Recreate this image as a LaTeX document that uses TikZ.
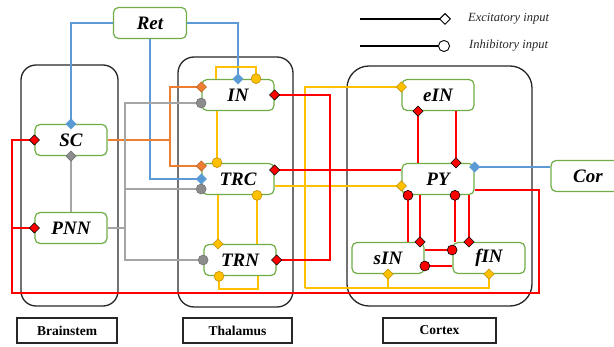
\documentclass[tikz,border=0pt]{standalone}
\usepackage{fontspec}
\setmainfont{Liberation Serif}
\usetikzlibrary{arrows.meta, calc}

\definecolor{popgreen}{RGB}{112,173,71}
\definecolor{cblue}{RGB}{91,155,213}
\definecolor{corange}{RGB}{237,125,49}
\definecolor{cgray}{RGB}{165,165,165}
\definecolor{cyellow}{RGB}{255,192,0}
\definecolor{cgold}{RGB}{191,144,0}
\definecolor{cred}{RGB}{255,0,0}

\tikzset{
  pop/.style={draw=popgreen, line width=1.2pt, rounded corners=5pt, fill=white,
    minimum width=72pt, minimum height=31pt, inner sep=0pt,
    font=\bfseries\itshape\fontsize{19}{20}\selectfont},
  region/.style={draw=black!85, line width=1.3pt},
  tag/.style={draw=black!85, line width=1.1pt, minimum height=25pt, inner sep=0pt,
    font=\bfseries\fontsize{13.5}{15}\selectfont},
  wire/.style={line width=1.3pt},
  exc/.style 2 args={shorten >=-5.5pt,
    -{Diamond[length=11pt,width=11pt,line width=0.6pt,color=#2,fill=#1]}},
  inh/.style 2 args={shorten >=-5pt,
    -{Circle[length=10.5pt,line width=0.6pt,color=#2,fill=#1]}},
}

\begin{document}
\begin{tikzpicture}[x=1pt, y=-1pt]
        \useasboundingbox (0,0) rectangle (614,347);
        \clip (0,0) rectangle (614,347);

        % Regions
        \draw[region, rounded corners=15pt] (21,65) rectangle (118,306);
        \draw[region, rounded corners=16pt] (178,57) rectangle (293,307);
        \draw[region, rounded corners=22pt] (347,66) rectangle (532,306);
        \node[tag, minimum width=100pt] (brainstem) at (67,330.5) {Brainstem};
        \node[tag, minimum width=109pt] (thalamus) at (237.5,330.5) {Thalamus};
        \node[tag, minimum width=113pt] (cortex) at (439.5,330.5) {Cortex};

        % Populations
        \node[pop, minimum width=73pt] (ret) at (150,23) {Ret};
        \node[pop] (sc) at (71,140) {SC};
        \node[pop] (pnn) at (71,228) {PNN};
        \node[pop] (in) at (238,95) {IN};
        \node[pop] (trc) at (238,179) {TRC};
        \node[pop] (trn) at (240,260) {TRN};
        \node[pop] (ein) at (438,95) {eIN};
        \node[pop] (py) at (438,179) {PY};
        \node[pop, minimum width=74pt] (cor) at (588,176) {Cor};
        \node[pop] (sin) at (388,258) {sIN};
        \node[pop] (fin) at (489,258) {fIN};

        % Ret
        \draw[wire, cblue, exc={cblue}{cblue}] (ret.west) -| (sc.north);
        \draw[wire, cblue, exc={cblue}{cblue}] (ret.east) -| (in.north);
        \draw[wire, cblue, exc={cblue}{cblue}] (ret.south) |- (trc.west);

        % SC
        \coordinate (scj) at (170,140);
        \draw[wire, corange] (sc.east) -- (scj);
        \draw[wire, corange, exc={corange}{corange!80!black}] (scj) |- ($(in.west)+(0,-8)$);
        \draw[wire, corange, exc={corange}{corange!80!black}] (scj) |- ($(trc.west)+(0,-13)$);

        % PNN
        \draw[wire, cgray, exc={cgray!85!black}{cgray!70!black}] (pnn.north) -- (sc.south);
        \coordinate (pnnj) at (125,228);
        \draw[wire, cgray] (pnn.east) -- (pnnj);
        \draw[wire, cgray, inh={cgray!85!black}{cgray!70!black}] (pnnj) |- ($(in.west)+(0,8)$);
        \draw[wire, cgray, inh={cgray!85!black}{cgray!70!black}] (pnnj) |- ($(trc.west)+(0,10)$);
        \draw[wire, cgray, inh={cgray!85!black}{cgray!70!black}] (pnnj) |- (trn.west);

        % Thalamus
        \draw[wire, cyellow, inh={cyellow}{cgold}] ($(in.north)+(-22,0)$) -- ++(0,-12) -| ($(in.north)+(18,0)$);
        \draw[wire, cyellow, inh={cyellow}{cgold}] ($(in.south)+(-21,0)$) -- ($(trc.north)+(-21,0)$);
        \draw[wire, cyellow, exc={cyellow}{cgold}] ($(trc.south)+(-20,0)$) -- ($(trn.north)+(-22,0)$);
        \draw[wire, cyellow, inh={cyellow}{cgold}] ($(trn.north)+(17,0)$) -- ($(trc.south)+(19,0)$);
        \draw[wire, cyellow, inh={cyellow}{cgold}] ($(trn.south)+(18,0)$) -- ++(0,13) -| ($(trn.south)+(-21,0)$);

        % TRC to cortex
        \coordinate (trcj) at (305,186);
        \coordinate (trcb) at (305,288);
        \draw[wire, cyellow, exc={cyellow}{cgold}] ($(trc.east)+(0,7)$) -- ($(py.west)+(0,7)$);
        \draw[wire, cyellow, exc={cyellow}{cgold}] (trcj) |- ($(ein.west)+(0,-8)$);
        \draw[wire, cyellow] (trcj) -- (trcb);
        \draw[wire, cyellow, exc={cyellow}{cgold}] (trcb) -| (sin.south);
        \draw[wire, cyellow, exc={cyellow}{cgold}] (trcb) -| (fin.south);

        % PY to thalamus and brainstem
        \coordinate (pyj) at (330,170);
        \draw[wire, cred, exc={cred}{black}] ($(py.west)+(0,-9)$) -- ($(trc.east)+(0,-9)$);
        \draw[wire, cred, exc={cred}{black}] (pyj) |- (in.east);
        \draw[wire, cred, exc={cred}{black}] (pyj) |- (trn.east);
        \coordinate (pyr) at (539,293);
        \coordinate (pyl) at (12,293);
        \draw[wire, cred, exc={cred}{black}] ($(py.east)+(0,11)$) -| (pyr) -- (pyl) |- (sc.west);
        \draw[wire, cred, exc={cred}{black}] (pyl) |- (pnn.west);

        % Cortex
        \draw[wire, cred, exc={cred}{black}] ($(py.north)+(-20,0)$) -- ($(ein.south)+(-20,0)$);
        \draw[wire, cred, exc={cred}{black}] ($(ein.south)+(18,0)$) -- ($(py.north)+(18,0)$);
        \draw[wire, cblue, exc={cblue}{cblue}] ($(cor.west)+(0,-9)$) -- ($(py.east)+(0,-12)$);
        \draw[wire, cred, inh={cred}{black}] ($(sin.north)+(20,0)$) -- ($(py.south)+(-30,0)$);
        \draw[wire, cred, exc={cred}{black}] ($(py.south)+(-18,0)$) -- ($(sin.north)+(32,0)$);
        \draw[wire, cred, inh={cred}{black}] ($(fin.north)+(-34,0)$) -- ($(py.south)+(17,0)$);
        \draw[wire, cred, exc={cred}{black}] ($(py.south)+(31,0)$) -- ($(fin.north)+(-20,0)$);
        \draw[wire, cred, inh={cred}{black}] ($(sin.east)+(0,-8)$) -- ($(fin.west)+(0,-8)$);
        \draw[wire, cred, inh={cred}{black}] ($(fin.west)+(0,8)$) -- ($(sin.east)+(0,8)$);

        % Legend
        \coordinate (excstart) at (360,19);
        \coordinate (excend) at (451,19);
        \coordinate (inhstart) at (360,46);
        \coordinate (inhend) at (450,46);
        \draw[line width=1.3pt, -{Diamond[length=12pt,width=12pt,line width=0.9pt,fill=white]}] (excstart) -- (excend);
        \draw[line width=1.3pt, -{Circle[length=12pt,line width=0.9pt,fill=white]}] (inhstart) -- (inhend);
        \node[anchor=west, inner sep=0pt, text=black!85, font=\itshape\fontsize{12.5}{14}\selectfont] (exclabel) at (468,19) {Excitatory input};
        \node[anchor=west, inner sep=0pt, text=black!85, font=\itshape\fontsize{12.5}{14}\selectfont] (inhlabel) at (469,46) {Inhibitory input};
\end{tikzpicture}
\end{document}
